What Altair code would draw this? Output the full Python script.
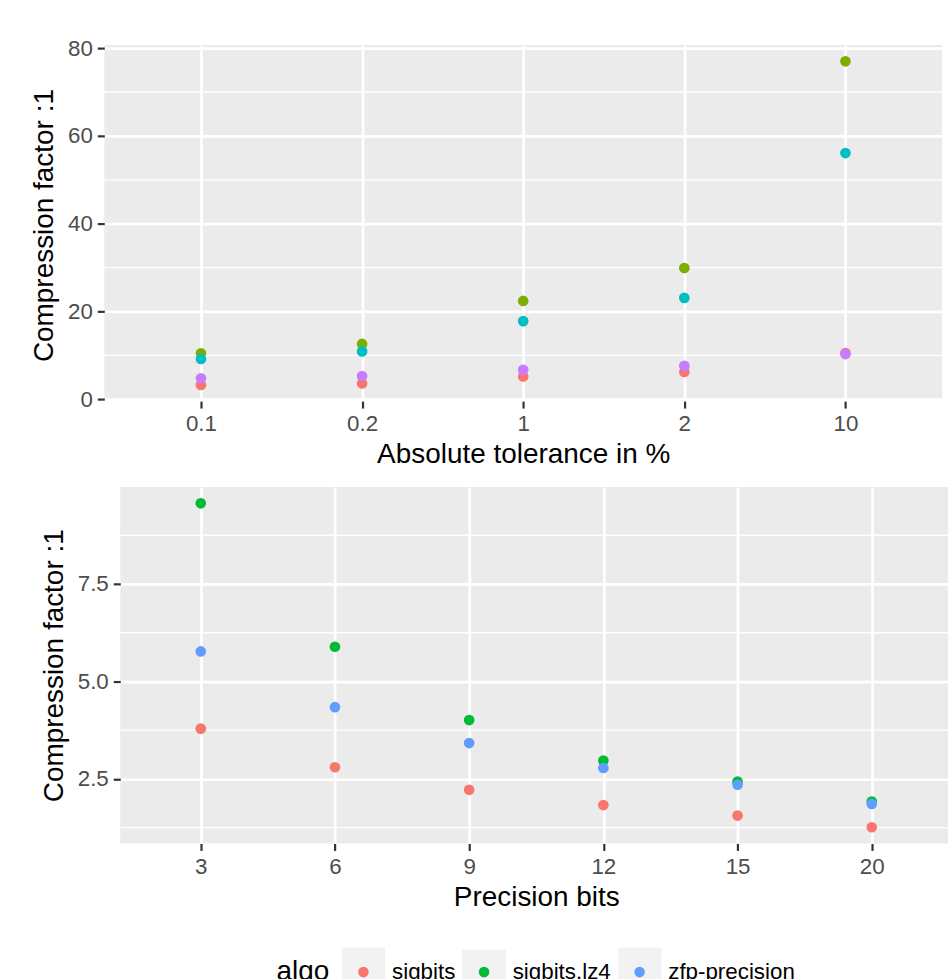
import altair as alt
import pandas as pd

FONT = "Liberation Sans"

# ---------------- data ----------------
tolerance = ["0.1", "0.2", "1", "2", "10"]
top_algos = ["sz", "sz.lz4", "zfp-accuracy", "zfp-accuracy.lz4"]
top_series = {
    "sz": [3.27, 3.6, 5.2, 6.2, 10.5],
    "sz.lz4": [10.45, 12.6, 22.4, 29.9, 77.0],
    "zfp-accuracy": [9.18, 10.9, 17.8, 23.1, 56.1],
    "zfp-accuracy.lz4": [4.77, 5.3, 6.7, 7.6, 10.3],
}
top_colors = ["#F8766D", "#7CAE00", "#00BFC4", "#C77CFF"]
top_major = [0, 20, 40, 60, 80]
top_minor = [10, 30, 50, 70]
top_domain = [-0.417, 80.69]

bits = ["3", "6", "9", "12", "15", "20"]
bottom_algos = ["sigbits", "sigbits.lz4", "zfp-precision"]
bottom_series = {
    "sigbits": [3.79, 2.80, 2.22, 1.83, 1.56, 1.26],
    "sigbits.lz4": [9.57, 5.89, 4.01, 2.97, 2.43, 1.92],
    "zfp-precision": [5.77, 4.34, 3.42, 2.78, 2.35, 1.86],
}
bottom_colors = ["#F8766D", "#00BA38", "#619CFF"]
bottom_major = [2.5, 5.0, 7.5]
bottom_minor = [1.25, 3.75, 6.25, 8.75]
bottom_domain = [0.8445, 9.9855]

# legend key backgrounds (one per legend entry), offsets from the panel's top-left corner
key_ids = ["k1", "k2", "k3"]
key_x = [222.4, 364.9, 499.7]
key_y = [461.7, 485.7, 461.7]

top_df = pd.DataFrame(
    [{"tol": t, "algo": a, "value": v} for a in top_algos for t, v in zip(tolerance, top_series[a])]
)
bottom_df = pd.DataFrame(
    [{"bits": b, "algo": a, "value": v} for a in bottom_algos for b, v in zip(bits, bottom_series[a])]
)
for kid in key_ids:
    bottom_df[kid] = kid

# ---------------- styling helpers ----------------
TICK = dict(tickColor="#333333", tickWidth=2.2, tickSize=7, domain=False,
            labelFont=FONT, labelFontSize=22.4, labelColor="#4D4D4D", labelPadding=5,
            titleFont=FONT, titleFontSize=28, titleColor="black", titleFontWeight="normal",
            gridColor="white", gridWidth=2.7, grid=True)


def x_axis(title):
    return alt.Axis(title=title, labelAngle=0, titleBaseline="alphabetic", titleY=62, **TICK)


def y_axis(title, values, fmt, title_x, title_y):
    return alt.Axis(title=title, values=values, format=fmt, titleX=title_x, titleY=title_y,
                    titleBaseline="middle", titleAlign="center", **TICK)


PTS = dict(size=115, opacity=1)

# ---------------- top panel ----------------
TOP_W, TOP_H = 840.3, 357
top_y_axis = y_axis("Compression factor :1", top_major, "d", -60.4, TOP_H / 2 + 2)
top_y_scale = alt.Scale(domain=top_domain, nice=False, zero=False)
top_pts = alt.Chart(top_df).mark_circle(**PTS).encode(
    x=alt.X("tol:N", sort=tolerance, scale=alt.Scale(type="point", padding=0.6),
            axis=x_axis("Absolute tolerance in %")),
    y=alt.Y("value:Q", scale=top_y_scale, axis=top_y_axis),
    color=alt.Color("algo:N", sort=top_algos,
                    scale=alt.Scale(domain=top_algos, range=top_colors), legend=None),
)
top_minor_rules = alt.Chart(pd.DataFrame({"v": top_minor})).mark_rule(
    color="white", strokeWidth=1.35
).encode(y=alt.Y("v:Q", scale=top_y_scale, axis=top_y_axis))
top = alt.layer(top_minor_rules, top_pts).properties(
    width=TOP_W, height=TOP_H, view=alt.ViewBackground(fill="#EBEBEB", strokeWidth=0)
)

# ---------------- bottom panel ----------------
BOT_W, BOT_H = 834.5, 357.4
KEY = 43


def key_legend(x, y):
    return alt.Legend(
        title=None, orient="none", legendX=x, legendY=y, direction="horizontal",
        symbolType="square", symbolSize=KEY * KEY, symbolFillColor="#F2F2F2",
        symbolStrokeColor="#F2F2F2", symbolStrokeWidth=0, symbolOpacity=1,
        labelExpr="''", labelOpacity=0, labelFontSize=1, labelOffset=0, zindex=1,
    )


key_enc = {
    "opacity": alt.Opacity(key_ids[0] + ":N", scale=alt.Scale(domain=[key_ids[0]], range=[1]),
                           legend=key_legend(key_x[0], key_y[0])),
    "strokeWidth": alt.StrokeWidth(key_ids[1] + ":N", scale=alt.Scale(domain=[key_ids[1]], range=[0]),
                                   legend=key_legend(key_x[1], key_y[1])),
    "strokeDash": alt.StrokeDash(key_ids[2] + ":N", scale=alt.Scale(domain=[key_ids[2]], range=[[1, 0]]),
                                 legend=key_legend(key_x[2], key_y[2])),
}

bot_y_axis = y_axis("Compression factor :1", bottom_major, ".1f", -65.7, BOT_H / 2)
bot_y_scale = alt.Scale(domain=bottom_domain, nice=False, zero=False)
bot_pts = alt.Chart(bottom_df).mark_circle(**PTS).encode(
    x=alt.X("bits:N", sort=bits, scale=alt.Scale(type="point", padding=0.6),
            axis=x_axis("Precision bits")),
    y=alt.Y("value:Q", scale=bot_y_scale, axis=bot_y_axis),
    color=alt.Color(
        "algo:N", sort=bottom_algos,
        scale=alt.Scale(domain=bottom_algos, range=bottom_colors),
        legend=alt.Legend(
            title="algo", orient="none", legendX=156.7, legendY=475, direction="horizontal",
            titleOrient="left", titleFont=FONT, titleFontSize=28, titleColor="black",
            titleFontWeight="normal", titlePadding=23,
            labelFont=FONT, labelFontSize=22.4, labelColor="black", labelOffset=17.5,
            symbolType="circle", symbolSize=113, symbolStrokeWidth=0, columnPadding=17,
            zindex=2,
        ),
    ),
    **key_enc,
)
bot_minor_rules = alt.Chart(pd.DataFrame({"v": bottom_minor})).mark_rule(
    color="white", strokeWidth=1.35
).encode(y=alt.Y("v:Q", scale=bot_y_scale, axis=bot_y_axis))
bottom = alt.layer(bot_minor_rules, bot_pts).properties(
    width=BOT_W, height=BOT_H, view=alt.ViewBackground(fill="#EBEBEB", strokeWidth=0)
)

spacer = alt.Chart(pd.DataFrame({"s": [0]})).mark_point(opacity=0).properties(width=15.3, height=BOT_H)
INDEP = dict(color="independent", opacity="independent", strokeWidth="independent",
             strokeDash="independent")
bottom_row = alt.hconcat(spacer, bottom, spacing=0, bounds="flush").resolve_scale(**INDEP)

chart = alt.vconcat(top, bottom_row, spacing=86.3, bounds="flush").resolve_scale(
    x="independent", y="independent", **INDEP
).properties(
    padding={"left": 29.6, "top": 35.8, "right": -5.8, "bottom": -9}
).configure_view(strokeWidth=0).configure(background="white")

chart.save("out.html", embed_options={"renderer": "svg", "actions": False})
